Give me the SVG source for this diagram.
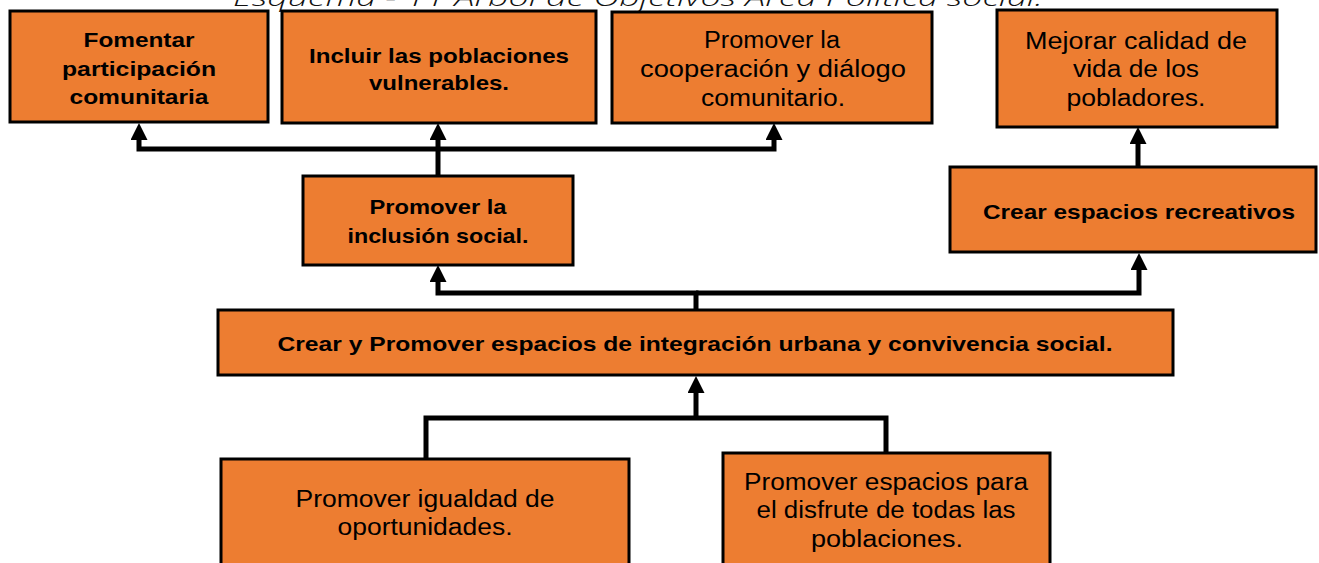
<svg xmlns="http://www.w3.org/2000/svg" width="1319" height="563" viewBox="0 0 1319 563">
<style>
.box{fill:#ED7D31;stroke:#000;stroke-width:3}
.t{font-family:"Liberation Sans",Arial,sans-serif;font-size:21px;font-weight:bold;fill:#000;text-anchor:middle}
.c{font-family:"Liberation Sans",Arial,sans-serif;font-size:23px;font-weight:normal;fill:#000;text-anchor:middle}
.title{font-family:"Open Sans","Liberation Sans",Arial,sans-serif;font-size:24px;font-style:italic;font-weight:300;fill:#111}
.ln{fill:none;stroke:#000;stroke-width:5;stroke-linejoin:miter}
</style>
<defs>
<marker id="ah" markerUnits="userSpaceOnUse" viewBox="0 0 17 17" markerWidth="17" markerHeight="17" refX="0" refY="8.5" orient="auto">
<path d="M0,0 L17,8.5 L0,17 z" fill="#000"/>
</marker>
</defs>
<rect width="1319" height="563" fill="#fff"/>
<text class="title" x="233" y="6" textLength="810" lengthAdjust="spacingAndGlyphs">Esquema - 11 Árbol de Objetivos Área Política social.</text>

<g id="connectors">
<path class="ln" d="M438,176 V140" marker-end="url(#ah)"/>
<path class="ln" d="M438,149 H139 V140" marker-end="url(#ah)"/>
<path class="ln" d="M438,149 H774 V140" marker-end="url(#ah)"/>
<path class="ln" d="M1138,167 V144" marker-end="url(#ah)"/>
<path class="ln" d="M696,310 V293 H438 V282" marker-end="url(#ah)"/>
<path class="ln" d="M696,293 H1139 V270" marker-end="url(#ah)"/>
<path class="ln" d="M426,459 V418 H886 V453"/>
<path class="ln" d="M696,418 V393" marker-end="url(#ah)"/>
</g>

<g id="n1">
<rect class="box" x="10" y="11" width="258" height="111"/>
<text class="t" x="139" y="47" textLength="111" lengthAdjust="spacingAndGlyphs">Fomentar</text>
<text class="t" x="139" y="76" textLength="154" lengthAdjust="spacingAndGlyphs">participación</text>
<text class="t" x="139" y="104" textLength="139" lengthAdjust="spacingAndGlyphs">comunitaria</text>
</g>
<g id="n2">
<rect class="box" x="282" y="11" width="314" height="112"/>
<text class="t" x="439" y="63" textLength="260" lengthAdjust="spacingAndGlyphs">Incluir las poblaciones</text>
<text class="t" x="439" y="90" textLength="140" lengthAdjust="spacingAndGlyphs">vulnerables.</text>
</g>
<g id="n3">
<rect class="box" x="612" y="12" width="320" height="111"/>
<text class="c" x="772" y="48" textLength="136" lengthAdjust="spacingAndGlyphs">Promover la</text>
<text class="c" x="773" y="77" textLength="266" lengthAdjust="spacingAndGlyphs">cooperación y diálogo</text>
<text class="c" x="773" y="106" textLength="144" lengthAdjust="spacingAndGlyphs">comunitario.</text>
</g>
<g id="n4">
<rect class="box" x="997" y="10" width="280" height="117"/>
<text class="c" x="1136" y="49" textLength="222" lengthAdjust="spacingAndGlyphs">Mejorar calidad de</text>
<text class="c" x="1136" y="77" textLength="126" lengthAdjust="spacingAndGlyphs">vida de los</text>
<text class="c" x="1136" y="106" textLength="139" lengthAdjust="spacingAndGlyphs">pobladores.</text>
</g>
<g id="n5">
<rect class="box" x="950" y="167" width="366" height="85"/>
<text class="t" x="1139" y="219" textLength="312" lengthAdjust="spacingAndGlyphs">Crear espacios recreativos</text>
</g>
<g id="n6">
<rect class="box" x="303" y="176" width="270" height="89"/>
<text class="t" x="438" y="214" textLength="137" lengthAdjust="spacingAndGlyphs">Promover la</text>
<text class="t" x="438" y="243" textLength="181" lengthAdjust="spacingAndGlyphs">inclusión social.</text>
</g>
<g id="n7">
<rect class="box" x="218" y="310" width="955" height="65"/>
<text class="t" x="695" y="351" textLength="835" lengthAdjust="spacingAndGlyphs">Crear y Promover espacios de integración urbana y convivencia social.</text>
</g>
<g id="n8">
<rect class="box" x="221" y="459" width="408" height="110"/>
<text class="c" x="425" y="507" textLength="259" lengthAdjust="spacingAndGlyphs">Promover igualdad de</text>
<text class="c" x="425" y="535" textLength="175" lengthAdjust="spacingAndGlyphs">oportunidades.</text>
</g>
<g id="n9">
<rect class="box" x="723" y="453" width="327" height="116"/>
<text class="c" x="886" y="490" textLength="284" lengthAdjust="spacingAndGlyphs">Promover espacios para</text>
<text class="c" x="886" y="518" textLength="259" lengthAdjust="spacingAndGlyphs">el disfrute de todas las</text>
<text class="c" x="887" y="547" textLength="152" lengthAdjust="spacingAndGlyphs">poblaciones.</text>
</g>
</svg>
